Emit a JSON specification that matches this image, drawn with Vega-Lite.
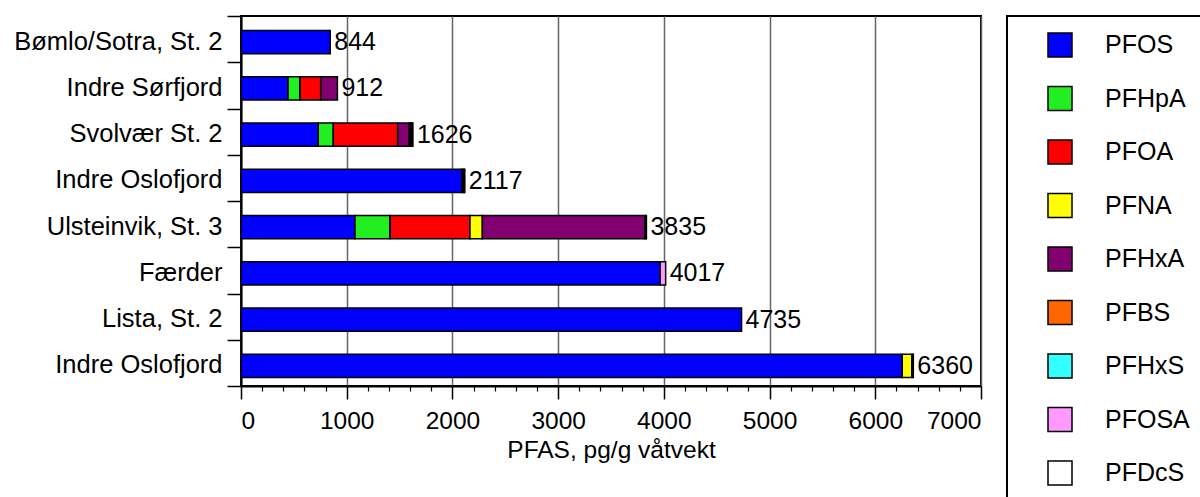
{
  "$schema": "https://vega.github.io/schema/vega-lite/v6.json",
  "autosize": "none",
  "padding": {"left": 241, "top": 16, "right": 219, "bottom": 111},
  "width": 740,
  "height": 370,
  "background": "white",
  "data": {
    "values": [
      {"site": "Bømlo/Sotra, St. 2", "comp": "PFOS", "value": 844},
      {"site": "Indre Sørfjord", "comp": "PFOS", "value": 445},
      {"site": "Indre Sørfjord", "comp": "PFHpA", "value": 113},
      {"site": "Indre Sørfjord", "comp": "PFOA", "value": 196},
      {"site": "Indre Sørfjord", "comp": "PFHxA", "value": 158},
      {"site": "Svolvær St. 2", "comp": "PFOS", "value": 731},
      {"site": "Svolvær St. 2", "comp": "PFHpA", "value": 142},
      {"site": "Svolvær St. 2", "comp": "PFOA", "value": 609},
      {"site": "Svolvær St. 2", "comp": "PFHxA", "value": 110},
      {"site": "Svolvær St. 2", "comp": "PFBS", "value": 8},
      {"site": "Svolvær St. 2", "comp": "PFHxS", "value": 14},
      {"site": "Svolvær St. 2", "comp": "PFOSA", "value": 6},
      {"site": "Svolvær St. 2", "comp": "PFDcS", "value": 6},
      {"site": "Indre Oslofjord", "comp": "PFOS", "value": 2090},
      {"site": "Indre Oslofjord", "comp": "PFHxS", "value": 14},
      {"site": "Indre Oslofjord", "comp": "PFOSA", "value": 8},
      {"site": "Indre Oslofjord", "comp": "PFDcS", "value": 5},
      {"site": "Ulsteinvik, St. 3", "comp": "PFOS", "value": 1078},
      {"site": "Ulsteinvik, St. 3", "comp": "PFHpA", "value": 332},
      {"site": "Ulsteinvik, St. 3", "comp": "PFOA", "value": 756},
      {"site": "Ulsteinvik, St. 3", "comp": "PFNA", "value": 117},
      {"site": "Ulsteinvik, St. 3", "comp": "PFHxA", "value": 1539},
      {"site": "Ulsteinvik, St. 3", "comp": "PFBS", "value": 5},
      {"site": "Ulsteinvik, St. 3", "comp": "PFHxS", "value": 8},
      {"site": "Færder", "comp": "PFOS", "value": 3965},
      {"site": "Færder", "comp": "PFOSA", "value": 52},
      {"site": "Lista, St. 2", "comp": "PFOS", "value": 4735},
      {"site": "Indre Oslofjord ", "comp": "PFOS", "value": 6255},
      {"site": "Indre Oslofjord ", "comp": "PFNA", "value": 90},
      {"site": "Indre Oslofjord ", "comp": "PFHxS", "value": 10},
      {"site": "Indre Oslofjord ", "comp": "PFOSA", "value": 5}
    ]
  },
  "encoding": {
    "y": {
      "field": "site",
      "type": "nominal",
      "sort": ["Bømlo/Sotra, St. 2", "Indre Sørfjord", "Svolvær St. 2", "Indre Oslofjord", "Ulsteinvik, St. 3", "Færder", "Lista, St. 2", "Indre Oslofjord "],
      "scale": {"paddingInner": 0, "paddingOuter": 0},
      "axis": {
        "title": null,
        "labelExpr": "trim(datum.label)",
        "tickBand": "extent",
        "tickSize": 14,
        "tickColor": "black",
        "tickWidth": 1.5,
        "labelPadding": 5,
        "labelFont": "Liberation Sans",
        "labelFontSize": 25.5,
        "labelColor": "black",
        "labelLimit": 400,
        "labelOffset": 2,
        "domainColor": "black",
        "domainWidth": 2,
        "grid": false
      }
    }
  },
  "layer": [
    {
      "transform": [{"calculate": "indexof(['PFOS','PFHpA','PFOA','PFNA','PFHxA','PFBS','PFHxS','PFOSA','PFDcS'], datum.comp)", "as": "stackorder"}],
      "mark": {"type": "bar", "height": {"band": 0.5}, "stroke": "black", "strokeWidth": 1.5, "yOffset": 3},
      "encoding": {
        "x": {
          "field": "value",
          "type": "quantitative",
          "stack": "zero",
          "scale": {"domain": [0, 7000], "nice": false},
          "axis": {
            "orient": "bottom",
            "title": "PFAS, pg/g våtvekt",
            "values": [0, 1000, 2000, 3000, 4000, 5000, 6000, 7000],
            "format": "d",
            "grid": true,
            "gridColor": "#666666",
            "gridWidth": 1.5,
            "tickSize": 13,
            "tickColor": "black",
            "tickWidth": 1.5,
            "labelPadding": 10,
            "labelFont": "Liberation Sans",
            "labelFontSize": 24.5,
            "labelColor": "black",
            "titleFont": "Liberation Sans",
            "titleFontSize": 24.5,
            "titleFontWeight": "normal",
            "titleColor": "black",
            "titlePadding": 6,
            "domainColor": "black",
            "domainWidth": 2
          }
        },
        "order": {"field": "stackorder", "type": "quantitative"},
        "color": {
          "field": "comp",
          "type": "nominal",
          "sort": ["PFOS", "PFHpA", "PFOA", "PFNA", "PFHxA", "PFBS", "PFHxS", "PFOSA", "PFDcS"],
          "scale": {
            "domain": ["PFOS", "PFHpA", "PFOA", "PFNA", "PFHxA", "PFBS", "PFHxS", "PFOSA", "PFDcS"],
            "range": ["#0000ff", "#22ee22", "#ff0000", "#ffff00", "#800070", "#ff6600", "#33ffff", "#ff99ff", "#ffffff"]
          },
          "legend": {
            "title": null,
            "orient": "right",
            "offset": 26,
            "padding": 16,
            "strokeColor": "black",
            "symbolType": "square",
            "symbolSize": 576,
            "symbolStrokeColor": "black",
            "symbolStrokeWidth": 1.5,
            "symbolOpacity": 1,
            "symbolOffset": 24,
            "labelOffset": 32,
            "labelFont": "Liberation Sans",
            "labelFontSize": 25,
            "labelColor": "black",
            "rowPadding": 23.5,
            "encode": {"legend": {"update": {"strokeWidth": {"value": 2}}}}
          }
        }
      }
    },
    {
      "transform": [{"aggregate": [{"op": "sum", "field": "value", "as": "total"}], "groupby": ["site"]}],
      "mark": {"type": "text", "align": "left", "baseline": "middle", "dx": 4, "dy": 3, "font": "Liberation Sans", "fontSize": 25, "color": "black"},
      "encoding": {
        "x": {
          "field": "total",
          "type": "quantitative",
          "axis": {
            "orient": "bottom",
            "title": null,
            "values": [200, 400, 600, 800, 1200, 1400, 1600, 1800, 2200, 2400, 2600, 2800, 3200, 3400, 3600, 3800, 4200, 4400, 4600, 4800, 5200, 5400, 5600, 5800, 6200, 6400, 6600, 6800],
            "labels": false,
            "grid": false,
            "domain": false,
            "tickSize": 5,
            "tickColor": "black",
            "tickWidth": 1.2
          }
        },
        "text": {"field": "total", "type": "quantitative", "format": "d"}
      }
    }
  ],
  "resolve": {"axis": {"x": "independent"}},
  "config": {
    "view": {"stroke": "black", "strokeWidth": 2}
  }
}
